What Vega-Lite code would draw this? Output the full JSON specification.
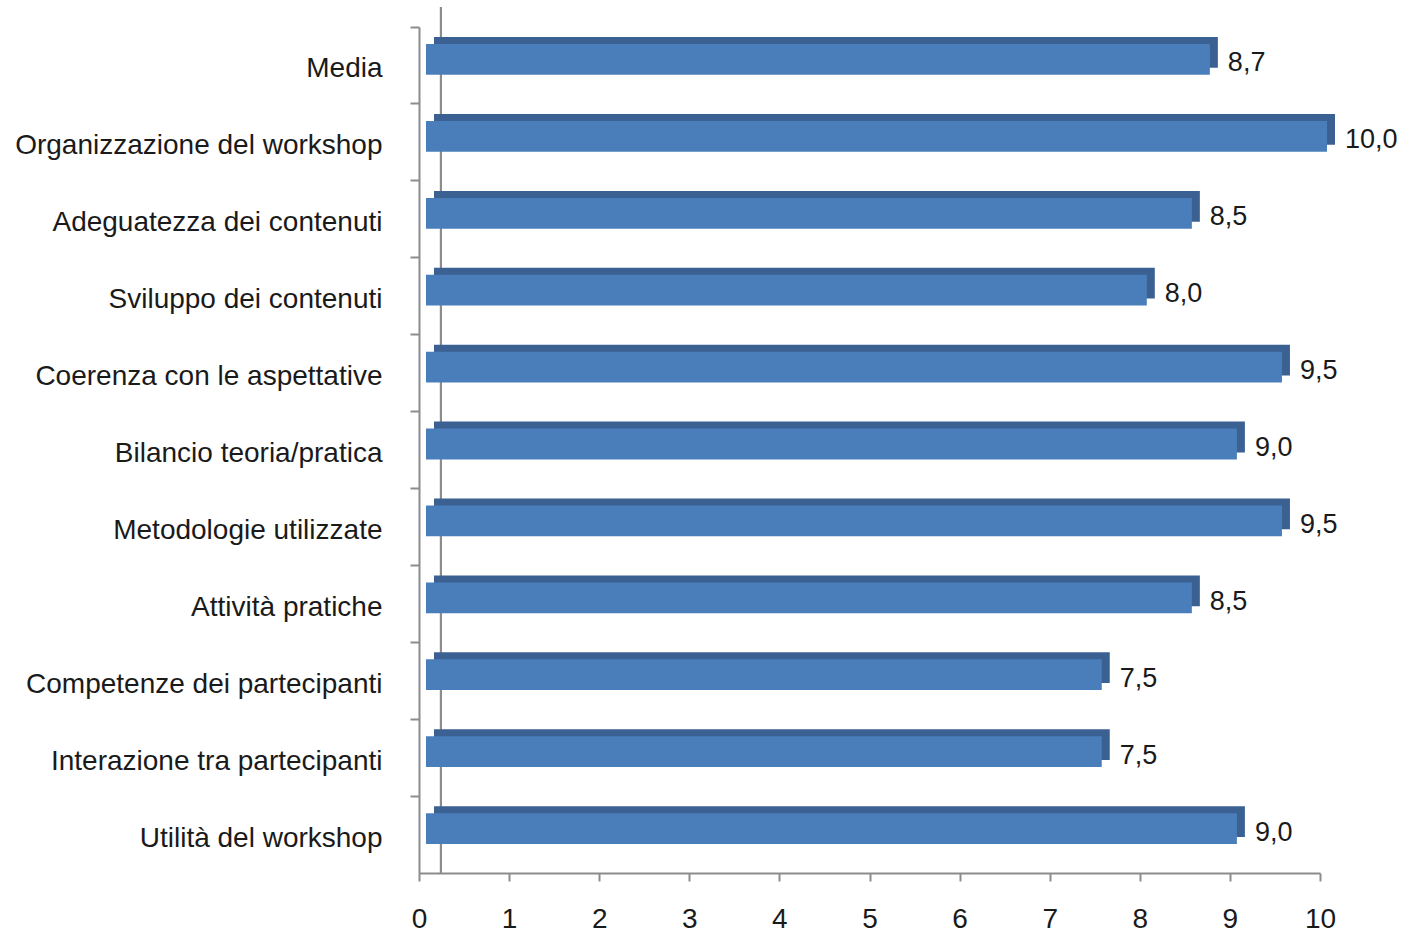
{
  "$schema": "https://vega.github.io/schema/vega-lite/v6.json",
  "autosize": "none",
  "width": 901,
  "height": 846,
  "padding": {"left": 419, "top": 27, "right": 92, "bottom": 59},
  "background": "white",
  "data": {
    "values": [
      {"voce": "Media", "valore": 8.7},
      {"voce": "Organizzazione del workshop", "valore": 10.0},
      {"voce": "Adeguatezza dei contenuti", "valore": 8.5},
      {"voce": "Sviluppo dei contenuti", "valore": 8.0},
      {"voce": "Coerenza con le aspettative", "valore": 9.5},
      {"voce": "Bilancio teoria/pratica", "valore": 9.0},
      {"voce": "Metodologie utilizzate", "valore": 9.5},
      {"voce": "Attività pratiche ", "valore": 8.5},
      {"voce": "Competenze dei partecipanti", "valore": 7.5},
      {"voce": "Interazione tra partecipanti", "valore": 7.5},
      {"voce": "Utilità del workshop", "valore": 9.0}
    ]
  },
  "encoding": {
    "y": {
      "field": "voce",
      "type": "nominal",
      "sort": null,
      "scale": {"paddingInner": 0, "paddingOuter": 0},
      "axis": {
        "title": null,
        "bandPosition": 0,
        "domainColor": "#8c8c8c",
        "domainWidth": 2,
        "tickColor": "#8c8c8c",
        "tickWidth": 2,
        "tickSize": 9,
        "labelPadding": 28,
        "labelOffset": 4,
        "labelFont": "Liberation Sans",
        "labelFontSize": 28,
        "labelColor": "#1a1a1a",
        "labelLimit": 500
      }
    }
  },
  "layer": [
    {
      "mark": {"type": "rule", "color": "#8c8c8c", "strokeWidth": 2, "yOffset": -20, "y2Offset": -18},
      "encoding": {"x": {"datum": 0.244, "type": "quantitative"}, "y": null}
    },
    {
      "mark": {"type": "bar", "color": "#3b6192", "xOffset": 15, "yOffset": -13, "height": {"band": 0.4}},
      "encoding": {
        "x": {
          "field": "valore",
          "type": "quantitative",
          "scale": {"domain": [0, 10], "nice": false},
          "axis": {
            "title": null,
            "values": [0, 1, 2, 3, 4, 5, 6, 7, 8, 9, 10],
            "format": "d",
            "grid": false,
            "domainColor": "#8c8c8c",
            "domainWidth": 2,
            "tickColor": "#8c8c8c",
            "tickWidth": 2,
            "tickSize": 8,
            "labelPadding": 24,
            "labelFont": "Liberation Sans",
            "labelFontSize": 28,
            "labelColor": "#1a1a1a",
            "labelFlush": false
          }
        }
      }
    },
    {
      "mark": {"type": "bar", "color": "#4a7ebb", "xOffset": 7, "yOffset": -6, "height": {"band": 0.4}},
      "encoding": {"x": {"field": "valore", "type": "quantitative"}}
    },
    {
      "mark": {"type": "text", "align": "left", "baseline": "middle", "dx": 25, "dy": -2, "font": "Liberation Sans", "fontSize": 27, "color": "#1a1a1a"},
      "encoding": {
        "x": {"field": "valore", "type": "quantitative"},
        "text": {"field": "valore", "type": "quantitative", "format": ".1f"}
      }
    }
  ],
  "config": {
    "view": {"stroke": null},
    "locale": {"number": {"decimal": ",", "thousands": ".", "grouping": [3], "currency": ["", " €"]}}
  }
}
